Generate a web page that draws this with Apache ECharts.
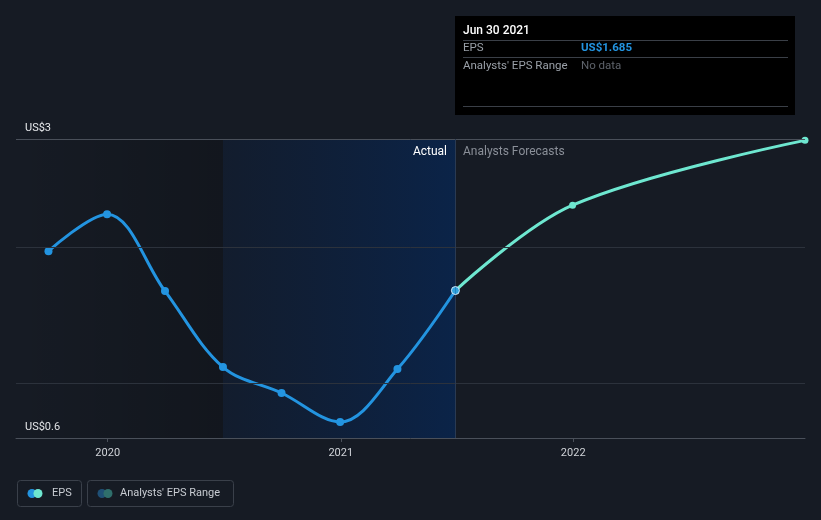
<!DOCTYPE html>
<html><head><meta charset="utf-8">
<script src="https://cdn.jsdelivr.net/npm/echarts@6/dist/echarts.min.js"></script>
<style>html,body{margin:0;padding:0;background:#161b24;}#c{width:821px;height:520px;}</style>
</head><body><div id="c"></div>
<script>
const actualDates = ['2019-09-30','2019-12-31','2020-03-31','2020-06-30','2020-09-30','2020-12-31','2021-03-31','2021-06-30'];
const actualEPS = [1.975, 2.247, 1.681, 1.122, 0.931, 0.718, 1.107, 1.685];
const forecastDates = ['2021-06-30','2021-12-31','2022-12-31'];
const forecastEPS = [1.685, 2.313, 2.79];
const yearTicks = ['2020','2021','2022'];
const yLabels = {min: 0.6, max: 2.8, minText: 'US$0.6', maxText: 'US$3'};
const gridValues = [1, 2];
const xRange = ['2019-08-10','2022-12-31'];
const pastEnd = '2020-06-30';
const nowDate = '2021-06-30';

const t = d => new Date(d + 'T00:00:00Z').getTime();
const DAY = 86400000;
const FONT = 'Roboto';
const chart = echarts.init(document.getElementById('c'), null, {renderer:'canvas', useUTC: true});
chart.setOption({
  useUTC: true,
  backgroundColor: '#161b24',
  animation: false,
  grid: {left: 16, right: 16, top: 139, bottom: 82},
  xAxis: {
    type: 'time', min: t(xRange[0]), max: t(xRange[1]),
    minInterval: 365 * DAY, maxInterval: 366 * DAY,
    axisLine: {lineStyle: {color: '#4a505a'}},
    axisTick: {show: true, length: 4, lineStyle: {color: '#4a505a'}},
    axisLabel: {color: '#d0d3d8', fontFamily: FONT, fontSize: 11, margin: 10,
      showMinLabel: false, showMaxLabel: false,
      formatter: v => { const y = String(new Date(v).getUTCFullYear()); return yearTicks.includes(y) ? y : ''; }},
    splitLine: {show: false}
  },
  yAxis: {
    type: 'value', min: yLabels.min, max: yLabels.max,
    axisLine: {show: false}, axisTick: {show: false}, splitLine: {show: false},
    axisLabel: {inside: true, customValues: [yLabels.min, yLabels.max], color: '#e8eaed', fontFamily: FONT, fontSize: 11,
      verticalAlign: 'bottom', margin: 9, padding: [0,0,5,0],
      formatter: v => Math.abs(v - yLabels.max) < 1e-9 ? yLabels.maxText : yLabels.minText}
  },
  series: [
    {
      name: 'bg', type: 'line', data: [], silent: true, z: 1,
      markArea: {silent: true, data: [
        [{xAxis: t(xRange[0]), itemStyle: {color: new echarts.graphic.LinearGradient(0,0,1,0,[{offset:0,color:'rgba(0,0,0,0)'},{offset:1,color:'rgba(0,0,0,0.18)'}])}}, {xAxis: t(pastEnd)}],
        [{xAxis: t(pastEnd), itemStyle: {color: new echarts.graphic.LinearGradient(0,0,1,0,[{offset:0,color:'rgba(12,32,64,0.35)'},{offset:1,color:'rgba(10,36,74,0.95)'}])}}, {xAxis: t(nowDate)}]
      ]},
      markLine: {silent: true, symbol: 'none', label: {show: false},
        data: [
          ...gridValues.map(v => ({yAxis: v, lineStyle: {color: '#2c323c', width: 1, type: 'solid'}})),
          {yAxis: yLabels.max, lineStyle: {color: '#4a505a', width: 1, type: 'solid'}},
          {xAxis: t(nowDate), lineStyle: {color: '#2a3a52', width: 1, type: 'solid'}}
        ]}
    },
    {
      name: 'EPS', type: 'line', smooth: 0.35,
      data: actualDates.map((d,i) => [t(d), actualEPS[i]]),
      lineStyle: {color: '#2394e0', width: 3}, itemStyle: {color: '#2394e0'},
      symbol: 'circle', symbolSize: 8, z: 3
    },
    {
      name: 'Forecast', type: 'line', smooth: 0.35,
      data: forecastDates.map((d,i) => [t(d), forecastEPS[i]]),
      lineStyle: {color: '#6ee7d0', width: 3}, itemStyle: {color: '#6ee7d0'},
      symbol: 'circle', symbolSize: 7, z: 3
    },
    {
      name: 'Now', type: 'scatter', data: [[t(nowDate), actualEPS[actualEPS.length-1]]],
      symbolSize: 8, itemStyle: {color: '#2394e0', borderColor: '#ffffff', borderWidth: 1}, z: 5
    }
  ],
  graphic: [
    {type: 'text', z: 100, x: 447, y: 146, style: {text: 'Actual', fill: '#ffffff', font: '12px Roboto', align: 'right'}},
    {type: 'text', z: 100, x: 463, y: 146, style: {text: 'Analysts Forecasts', fill: '#8a8f98', font: '12px Roboto'}},
    {type: 'group', z: 100, x: 455, y: 16, children: [
      {type: 'rect', shape: {x:0, y:0, width: 340, height: 99}, style: {fill: '#000000'}},
      {type: 'text', x: 8, y: 9, style: {text: 'Jun 30 2021', fill: '#ffffff', font: '500 12px Roboto'}},
      {type: 'line', shape: {x1: 8, y1: 24.5, x2: 333, y2: 24.5}, style: {stroke: '#3a3f47', lineWidth: 1}},
      {type: 'text', x: 8, y: 26, style: {text: 'EPS', fill: '#9aa0a8', font: '11.5px Roboto'}},
      {type: 'text', x: 126, y: 26, style: {text: 'US$1.685', fill: '#2394e0', font: 'bold 11.5px Roboto'}},
      {type: 'line', shape: {x1: 8, y1: 41.5, x2: 333, y2: 41.5}, style: {stroke: '#3a3f47', lineWidth: 1}},
      {type: 'text', x: 8, y: 44, style: {text: "Analysts' EPS Range", fill: '#9aa0a8', font: '11.5px Roboto'}},
      {type: 'text', x: 126, y: 44, style: {text: 'No data', fill: '#5e636b', font: '11.5px Roboto'}},
      {type: 'line', shape: {x1: 8, y1: 90.5, x2: 333, y2: 90.5}, style: {stroke: '#3a3f47', lineWidth: 1}}
    ]},
    {type: 'group', z: 100, x: 17, y: 480, children: [
      {type: 'rect', shape: {x: 0.5, y: 0.5, width: 64, height: 26, r: 3}, style: {fill: 'none', stroke: '#3a404a', lineWidth: 1}},
      {type: 'circle', shape: {cx: 15, cy: 13.5, r: 4.5}, style: {fill: '#2394e0'}},
      {type: 'circle', shape: {cx: 21, cy: 13.5, r: 4.5}, style: {fill: '#6ee7d0'}},
      {type: 'text', x: 35, y: 8, style: {text: 'EPS', fill: '#c8ccd2', font: '11px Roboto'}},
      {type: 'rect', shape: {x: 70.5, y: 0.5, width: 146, height: 26, r: 3}, style: {fill: 'none', stroke: '#3a404a', lineWidth: 1}},
      {type: 'circle', shape: {cx: 85, cy: 13.5, r: 4.5}, style: {fill: '#1f5076'}},
      {type: 'circle', shape: {cx: 91, cy: 13.5, r: 4.5}, style: {fill: '#2f6f6c'}},
      {type: 'text', x: 103, y: 8, style: {text: "Analysts' EPS Range", fill: '#c8ccd2', font: '11px Roboto'}}
    ]}
  ]
});
</script></body></html>
